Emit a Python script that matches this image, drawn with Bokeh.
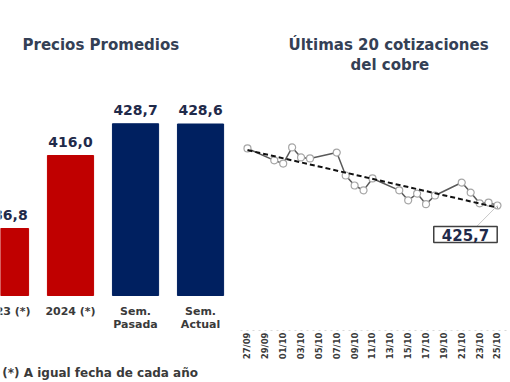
import numpy as np
import pandas as pd
from bokeh.plotting import figure
from bokeh.models import Range1d, FixedTicker, Label, DatetimeTickFormatter, Title
from bokeh.layouts import row
from bokeh.embed import file_html
from bokeh.resources import INLINE
from bokeh.core.properties import value

# ---------------- data ----------------
categories = ["2023 (*)", "2024 (*)", "Sem.\nPasada", "Sem.\nActual"]
avg_prices = [386.8, 416.0, 428.7, 428.6]
bar_colors = ["#C00000", "#C00000", "#002060", "#002060"]
bar_base = 360
footnote = "(*) A igual fecha de cada año"

dates = ["2024-09-27", "2024-09-30", "2024-10-01", "2024-10-02", "2024-10-03",
         "2024-10-04", "2024-10-07", "2024-10-08", "2024-10-09", "2024-10-10",
         "2024-10-11", "2024-10-14", "2024-10-15", "2024-10-16", "2024-10-17",
         "2024-10-18", "2024-10-21", "2024-10-22", "2024-10-23", "2024-10-24",
         "2024-10-25"]
prices = [446.8, 442.4, 441.2, 447.2, 443.5, 443.1, 445.3, 436.8, 433.1, 431.3,
          435.7, 431.3, 427.6, 430.1, 426.2, 429.4, 434.2, 430.5, 426.5, 426.8,
          425.7]
tick_dates = pd.date_range("2024-09-27", "2024-10-25", freq="2D")

FONT = "DejaVu Sans"
TITLE_COLOR = "#344055"
NUM_COLOR = "#1F2A4A"
LABEL_COLOR = "#3A3A3A"

def fmt(v):
    return f"{v:.1f}".replace(".", ",")

def style_title(t, offset, standoff):
    t.align = "left"
    t.offset = offset
    t.standoff = standoff
    t.text_font = FONT
    t.text_font_size = "15px"
    t.text_font_style = "bold"
    t.text_color = TITLE_COLOR

# ---------------- left: average prices ----------------
idx = list(range(len(categories)))
p1 = figure(width=240, height=382, x_range=Range1d(-0.077, 3.538),
            y_range=Range1d(346, 448.8), output_backend="svg",
            toolbar_location=None, min_border_left=0, min_border_right=5,
            min_border_top=73, min_border_bottom=52)
p1.vbar(x=idx, top=avg_prices, bottom=bar_base, width=0.71,
        fill_color=bar_colors, line_color=bar_colors)
p1.text(x=idx, y=avg_prices, text=[fmt(v) for v in avg_prices],
        text_align="center", text_baseline="bottom", y_offset=-9,
        text_font=value(FONT), text_font_style="bold", text_font_size="14px",
        text_color=NUM_COLOR)
p1.text(x=idx, y=[bar_base] * len(idx), text=categories,
        text_align="center", text_baseline="top", y_offset=9,
        text_font=value(FONT), text_font_style="bold", text_font_size="11px",
        text_line_height=1.0, text_color=LABEL_COLOR)
# footnote carried by the bottom axis
foot_x = 1.4
p1.xaxis.ticker = FixedTicker(ticks=[foot_x])
p1.xaxis.major_label_overrides = {foot_x: footnote}
p1.xaxis.axis_line_color = None
p1.xaxis.major_tick_line_color = None
p1.xaxis.minor_tick_line_color = None
p1.xaxis.major_tick_out = 0
p1.xaxis.major_tick_in = 0
p1.xaxis.major_label_standoff = 35
p1.xaxis.major_label_text_font = FONT
p1.xaxis.major_label_text_font_size = "12px"
p1.xaxis.major_label_text_font_style = "bold"
p1.xaxis.major_label_text_color = LABEL_COLOR
p1.yaxis.visible = False
p1.grid.visible = False
p1.outline_line_color = None
p1.title.text = "Precios Promedios"
style_title(p1.title, 22, 40)

# ---------------- right: last quotes ----------------
x = pd.to_datetime(dates)
d0, d1 = x[0], x[-1]
p2 = figure(width=270, height=382, x_axis_type="datetime",
            x_range=Range1d(d0 - pd.Timedelta(hours=18.8),
                            d1 + pd.Timedelta(hours=35)),
            y_range=Range1d(379.45, 474.54), output_backend="svg",
            toolbar_location=None, min_border_left=0, min_border_right=0,
            min_border_top=73, min_border_bottom=52)

days = np.array([(t - d0).days for t in x], dtype=float)
k, b = np.polyfit(days, prices, 1)
p2.line(x, prices, line_color="#595959", line_width=1.5)
p2.scatter(x, prices, size=7, fill_color="white", line_color="#A6A6A6",
           line_width=1.2)
p2.line([d0, d1], [b, b + k * days[-1]], line_color="#111111", line_width=2,
        line_dash="5 3")

p2.segment(x0=[d1 - pd.Timedelta(days=2.4)], y0=[prices[-1] - 8.0],
           x1=[d1], y1=[prices[-1]], line_color="#C8C8C8", line_width=1)
p2.add_layout(Label(x=d1, y=prices[-1], x_offset=-32, y_offset=-29,
                    text=fmt(prices[-1]), text_align="center",
                    text_baseline="middle", text_font=FONT,
                    text_font_size="15px", text_font_style="bold",
                    text_color=NUM_COLOR, border_line_color="#404040",
                    border_line_width=1.5, background_fill_color="white",
                    padding=dict(left=8, right=8, top=2, bottom=2)))

p2.xaxis.ticker = FixedTicker(ticks=[t.timestamp() * 1000 for t in tick_dates])
p2.xaxis.formatter = DatetimeTickFormatter(days="%d/%m", months="%d/%m",
                                           hours="%d/%m", years="%d/%m")
p2.xaxis.major_label_orientation = np.pi / 2
p2.xaxis.axis_line_color = "#D9D9D9"
p2.xaxis.axis_line_dash = "dotted"
p2.xaxis.major_tick_line_color = None
p2.xaxis.minor_tick_line_color = None
p2.xaxis.major_tick_out = 0
p2.xaxis.major_tick_in = 0
p2.xaxis.major_label_text_font = FONT
p2.xaxis.major_label_text_font_size = "8.5px"
p2.xaxis.major_label_text_font_style = "bold"
p2.xaxis.major_label_text_color = LABEL_COLOR
p2.xaxis.major_label_standoff = 2
p2.yaxis.visible = False
p2.grid.visible = False
p2.outline_line_color = None
p2.title.text = "Últimas 20 cotizaciones"
style_title(p2.title, 48, 0)
t_sub = Title(text="del cobre")
style_title(t_sub, 110, 0)
p2.add_layout(t_sub, "above")

layout = row(p1, p2)
open("out.html", "w").write(file_html(layout, INLINE))
